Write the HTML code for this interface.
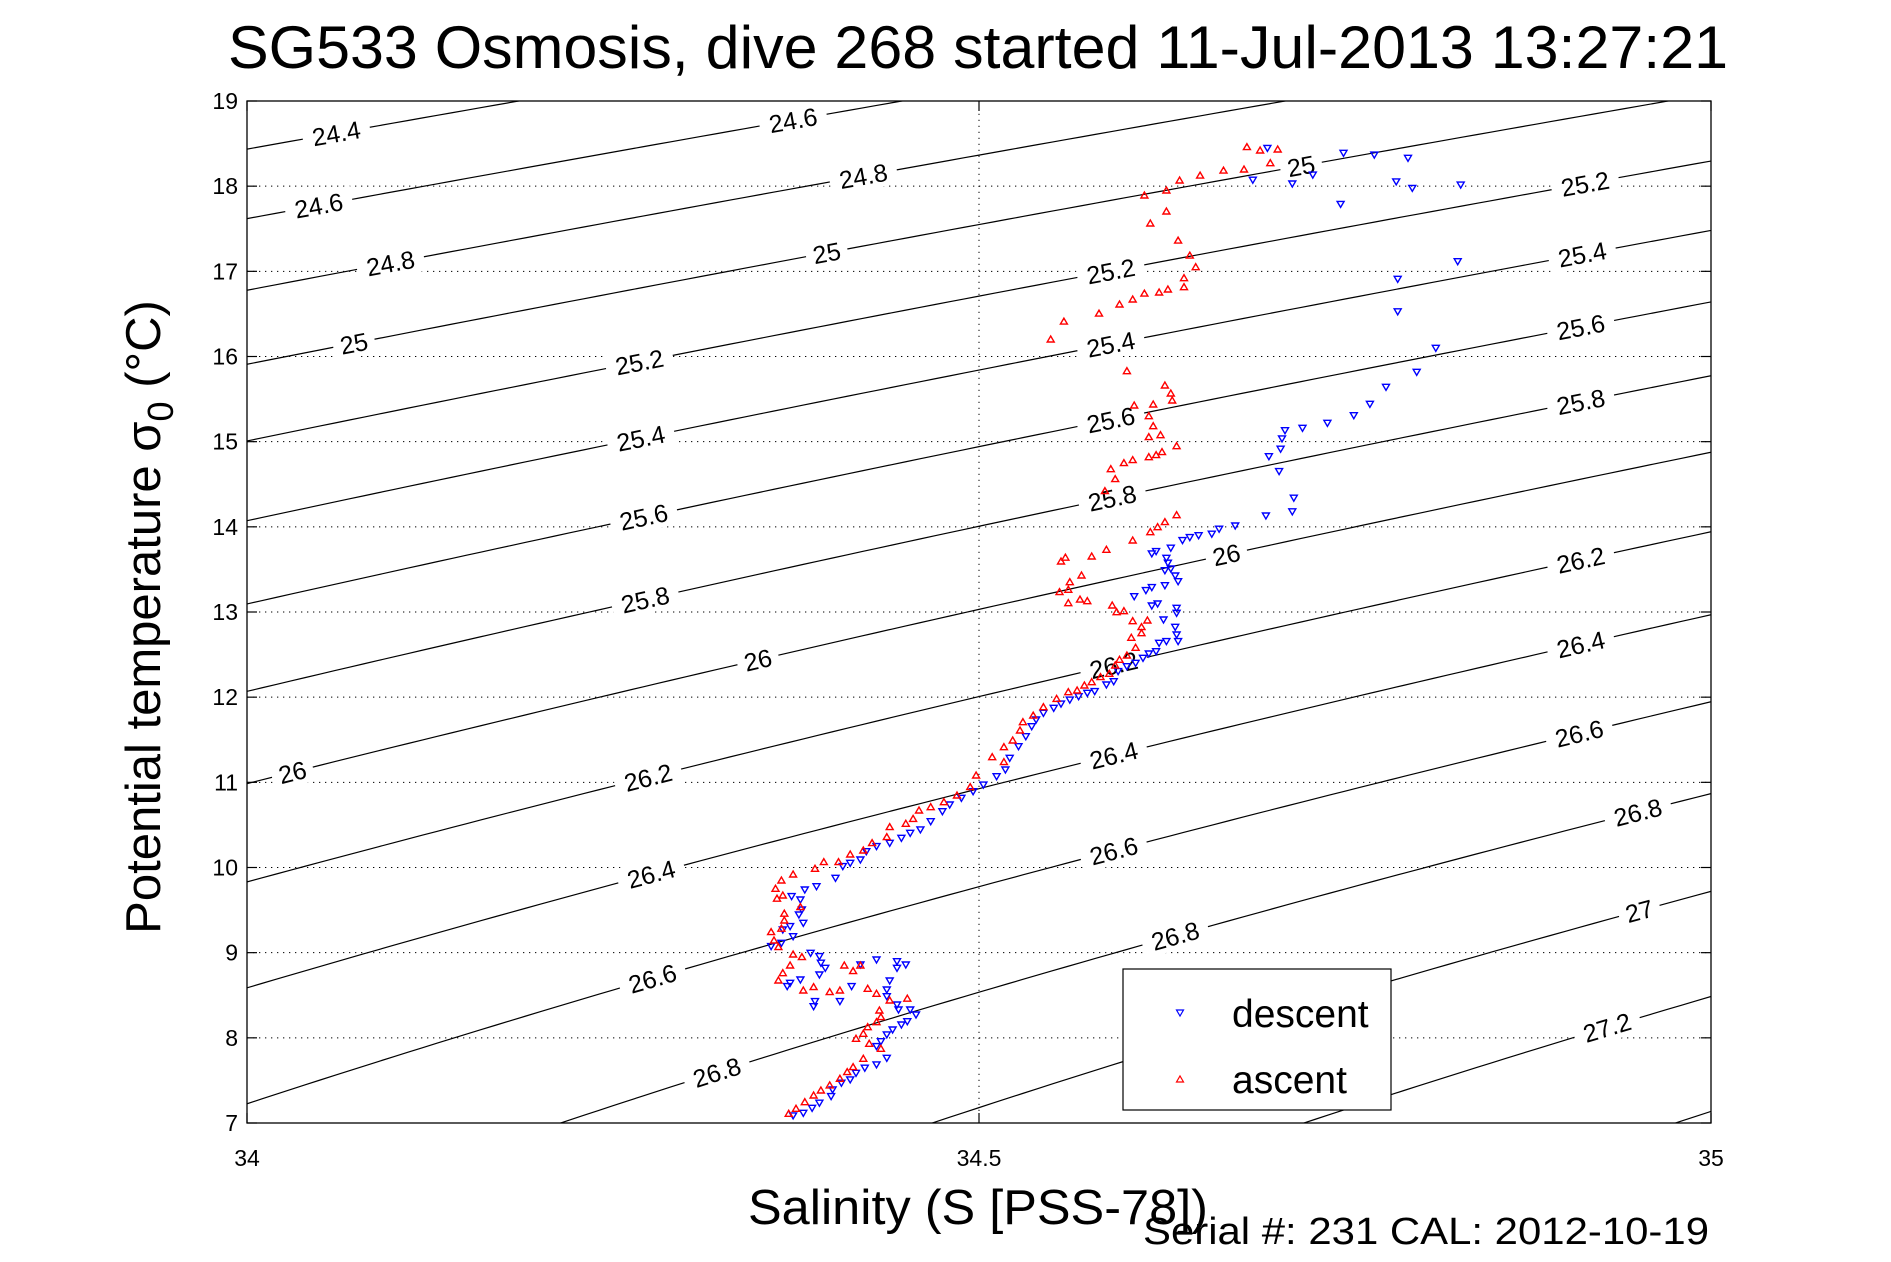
<!DOCTYPE html>
<html><head><meta charset="utf-8"><style>
html,body{margin:0;padding:0;background:#fff;width:1891px;height:1262px;overflow:hidden;}
svg{display:block;font-family:"Liberation Sans",sans-serif;}
</style></head><body>
<svg id="chart" width="1891" height="1262" viewBox="0 0 1891 1262" xmlns="http://www.w3.org/2000/svg">
<defs><clipPath id="plotclip"><rect x="247" y="101" width="1464" height="1022"/></clipPath></defs>
<rect x="0" y="0" width="1891" height="1262" fill="#fff"/>
<text x="978" y="68" font-size="60" text-anchor="middle" textLength="1500" lengthAdjust="spacingAndGlyphs">SG533 Osmosis, dive 268 started 11-Jul-2013 13:27:21</text>
<g id="grid"></g>
<g id="contours" clip-path="url(#plotclip)"></g>
<g id="clabels"></g>
<g id="descent" clip-path="url(#plotclip)"></g>
<g id="ascent" clip-path="url(#plotclip)"></g>
<rect x="247" y="101" width="1464" height="1022" fill="none" stroke="#000" stroke-width="1.3"/>
<g id="ticks"></g>
<text x="978" y="1224" font-size="49" text-anchor="middle" textLength="460" lengthAdjust="spacingAndGlyphs">Salinity (S [PSS-78])</text>
<text transform="translate(160,617) rotate(-90)" font-size="49" text-anchor="middle">Potential temperature σ<tspan font-size="36" dy="13">0</tspan><tspan dy="-13"> (°C)</tspan></text>
<text x="1709" y="1244" font-size="38" text-anchor="end" textLength="566" lengthAdjust="spacingAndGlyphs">Serial #: 231  CAL: 2012-10-19</text>
<g>
<rect x="1123" y="969" width="268" height="141" fill="#fff" stroke="#000" stroke-width="1.2"/>
<path d="M1176.5,1010 L1183.5,1010 L1180,1016 Z" fill="none" stroke="#00f" stroke-width="1.2"/>
<text x="1232" y="1027" font-size="39">descent</text>
<path d="M1176.5,1082 L1183.5,1082 L1180,1076 Z" fill="none" stroke="#f00" stroke-width="1.2"/>
<text x="1232" y="1093" font-size="39">ascent</text>
</g>
</svg>
<script>
const xTicks = [34, 34.5, 35];
const xTickLabels = ["34", "34.5", "35"];
const yTicks = [7, 8, 9, 10, 11, 12, 13, 14, 15, 16, 17, 18, 19];
const contourLevels = [24.0,24.2,24.4,24.6,24.8,25.0,25.2,25.4,25.6,25.8,26.0,26.2,26.4,26.6,26.8,27.0,27.2,27.4,27.6];
const labelLevels = [24.4,24.6,24.6,24.8,24.8,25,25,25,25.2,25.2,25.2,25.4,25.4,25.4,25.6,25.6,25.6,25.8,25.8,25.8,26,26,26,26.2,26.2,26.2,26.4,26.4,26.4,26.6,26.6,26.6,26.8,26.8,26.8,27,27.2];
const labelSal = [34.061,34.373,34.049,34.421,34.098,34.720,34.396,34.073,34.914,34.590,34.268,34.912,34.590,34.269,34.911,34.590,34.271,34.911,34.591,34.272,34.669,34.349,34.031,34.911,34.592,34.274,34.911,34.592,34.276,34.910,34.592,34.277,34.950,34.634,34.321,34.951,34.929];

const descentS = [34.697,34.749,34.770,34.793,34.829,34.796,34.785,34.728,34.714,34.687,34.747,34.827,34.786,34.786,34.812,34.799,34.778,34.767,34.756,34.738,34.721,34.709,34.707,34.706,34.698,34.705,34.715,34.714,34.696,34.675,34.664,34.659,34.650,34.644,34.639,34.631,34.621,34.618,34.628,34.629,34.631,34.627,34.634,34.636,34.627,34.618,34.614,34.606,34.622,34.618,34.635,34.635,34.626,34.634,34.635,34.636,34.628,34.623,34.621,34.616,34.612,34.607,34.601,34.595,34.592,34.587,34.579,34.574,34.568,34.562,34.556,34.551,34.544,34.539,34.536,34.532,34.527,34.521,34.518,34.512,34.503,34.496,34.488,34.480,34.475,34.467,34.460,34.453,34.447,34.439,34.430,34.423,34.419,34.412,34.407,34.402,34.389,34.381,34.372,34.378,34.379,34.377,34.380,34.371,34.366,34.373,34.365,34.358,34.385,34.391,34.392,34.395,34.391,34.378,34.371,34.369,34.388,34.387,34.405,34.413,34.419,34.430,34.444,34.450,34.444,34.439,34.437,34.437,34.444,34.445,34.453,34.457,34.451,34.447,34.441,34.437,34.433,34.430,34.437,34.430,34.422,34.416,34.412,34.406,34.400,34.399,34.391,34.386,34.380,34.373];
const descentT = [18.444,18.386,18.365,18.327,18.013,17.974,18.050,18.130,18.026,18.070,17.786,17.113,16.906,16.525,16.096,15.814,15.638,15.439,15.305,15.216,15.157,15.129,15.032,14.911,14.824,14.648,14.336,14.177,14.127,14.010,13.972,13.913,13.896,13.873,13.838,13.749,13.709,13.682,13.631,13.573,13.505,13.485,13.423,13.356,13.309,13.286,13.251,13.180,13.094,13.070,13.043,12.985,12.906,12.820,12.730,12.652,12.652,12.633,12.534,12.507,12.456,12.398,12.358,12.300,12.182,12.143,12.065,12.045,12.006,11.966,11.919,11.869,11.811,11.732,11.653,11.536,11.418,11.282,11.145,11.066,10.968,10.890,10.812,10.734,10.655,10.538,10.441,10.401,10.343,10.284,10.245,10.186,10.088,10.049,10.010,9.873,9.775,9.736,9.658,9.618,9.501,9.442,9.345,9.306,9.266,9.188,9.110,9.071,8.993,8.954,8.876,8.817,8.738,8.679,8.640,8.601,8.425,8.366,8.425,8.601,8.855,8.914,8.894,8.855,8.817,8.667,8.562,8.483,8.385,8.327,8.327,8.268,8.190,8.151,8.092,8.034,7.955,7.897,7.760,7.682,7.643,7.584,7.506,7.467,7.389,7.310,7.232,7.173,7.114,7.083];

const ascentS = [34.683,34.692,34.704,34.699,34.681,34.667,34.651,34.637,34.628,34.613,34.628,34.617,34.636,34.644,34.648,34.640,34.640,34.629,34.623,34.613,34.605,34.596,34.582,34.558,34.549,34.601,34.627,34.631,34.632,34.619,34.606,34.616,34.619,34.624,34.616,34.635,34.625,34.621,34.616,34.605,34.599,34.590,34.593,34.586,34.635,34.627,34.622,34.617,34.605,34.587,34.577,34.559,34.556,34.570,34.562,34.555,34.561,34.569,34.574,34.561,34.591,34.594,34.599,34.605,34.615,34.611,34.611,34.604,34.607,34.601,34.596,34.593,34.589,34.583,34.577,34.572,34.567,34.561,34.553,34.544,34.537,34.530,34.528,34.523,34.517,34.509,34.517,34.498,34.494,34.485,34.476,34.467,34.459,34.455,34.450,34.439,34.437,34.427,34.421,34.412,34.404,34.394,34.388,34.373,34.365,34.361,34.366,34.362,34.378,34.367,34.367,34.365,34.358,34.360,34.363,34.373,34.379,34.371,34.366,34.363,34.380,34.387,34.398,34.405,34.424,34.430,34.439,34.432,34.433,34.430,34.424,34.421,34.416,34.425,34.433,34.421,34.414,34.410,34.405,34.398,34.392,34.387,34.381,34.375,34.370,34.408,34.414,34.419,34.451];
const ascentT = [18.464,18.425,18.436,18.275,18.201,18.189,18.130,18.072,17.955,17.896,17.708,17.567,17.367,17.191,17.054,16.925,16.820,16.792,16.757,16.745,16.675,16.616,16.510,16.416,16.205,15.833,15.665,15.571,15.489,15.442,15.430,15.305,15.188,15.082,15.059,14.953,14.883,14.848,14.824,14.789,14.754,14.683,14.566,14.425,14.143,14.061,14.002,13.943,13.845,13.736,13.658,13.643,13.599,13.434,13.356,13.239,13.267,13.152,13.133,13.109,13.082,13.003,13.015,12.898,12.906,12.828,12.757,12.703,12.586,12.495,12.445,12.378,12.280,12.241,12.182,12.143,12.084,12.064,11.986,11.888,11.790,11.712,11.614,11.497,11.418,11.301,11.243,11.086,10.950,10.851,10.773,10.714,10.675,10.577,10.519,10.480,10.363,10.292,10.206,10.158,10.069,10.069,9.991,9.924,9.853,9.756,9.677,9.639,9.541,9.463,9.384,9.287,9.247,9.149,9.071,8.984,8.954,8.855,8.765,8.679,8.562,8.601,8.543,8.562,8.582,8.523,8.444,8.327,8.249,8.190,8.131,8.053,7.994,7.936,7.877,7.760,7.662,7.603,7.525,7.447,7.388,7.329,7.250,7.173,7.114,8.855,8.789,8.855,8.465];

const NS = "http://www.w3.org/2000/svg";
const X0 = 247, X1 = 1711, Y0 = 1123, Y1 = 101;
const SMIN = 34, SMAX = 35, TMIN = 7, TMAX = 19;
function xs(s){ return X0 + (s - SMIN) / (SMAX - SMIN) * (X1 - X0); }
function ys(t){ return Y0 - (t - TMIN) / (TMAX - TMIN) * (Y0 - Y1); }
function mk(tag, attrs, parent){ const e = document.createElementNS(NS, tag); for (const k in attrs) e.setAttribute(k, attrs[k]); parent.appendChild(e); return e; }

function sigma0(S, T){
  const rw = 999.842594 + 6.793952e-2*T - 9.095290e-3*T*T + 1.001685e-4*T**3 - 1.120083e-6*T**4 + 6.536332e-9*T**5;
  const A = 0.824493 - 4.0899e-3*T + 7.6438e-5*T*T - 8.2467e-7*T**3 + 5.3875e-9*T**4;
  const B = -5.72466e-3 + 1.0227e-4*T - 1.6546e-6*T*T;
  return rw + A*S + B*Math.pow(S,1.5) + 4.8314e-4*S*S - 1000;
}
function tForSigma(S, sig){
  let lo = -2, hi = 30;
  for (let i = 0; i < 60; i++){ const m = (lo+hi)/2; if (sigma0(S,m) > sig) lo = m; else hi = m; }
  return (lo+hi)/2;
}

const grid = document.getElementById('grid');
yTicks.forEach(t => {
  const l = mk('line', {x1:X0, x2:X1, y1:ys(t), y2:ys(t), stroke:'#000', 'stroke-width':1, 'stroke-dasharray':'1.3,4.7'}, grid);
  
  
});
xTicks.forEach(s => {
  const l = mk('line', {x1:xs(s), x2:xs(s), y1:Y0, y2:Y1, stroke:'#000', 'stroke-width':1, 'stroke-dasharray':'1.3,4.7'}, grid);
  
  
});

const cg = document.getElementById('contours');
contourLevels.forEach(lv => {
  let d = '';
  for (let i = 0; i <= 100; i++){
    const s = SMIN + i*(SMAX-SMIN)/100;
    d += (i ? 'L' : 'M') + xs(s).toFixed(2) + ',' + ys(tForSigma(s, lv)).toFixed(2);
  }
  const p = mk('path', {d:d, fill:'none', stroke:'#000', 'stroke-width':1.2}, cg);
  
  
});

const lg = document.getElementById('clabels');
labelLevels.forEach((lv, i) => {
  const s = labelSal[i];
  const x = xs(s), y = ys(tForSigma(s, lv));
  const x2 = xs(s+0.01), y2 = ys(tForSigma(s+0.01, lv));
  const ang = Math.atan2(y2 - y, x2 - x) * 180 / Math.PI;
  const txt = String(Math.round(lv*10)/10);
  const g = mk('g', {transform:'translate(' + x.toFixed(1) + ',' + y.toFixed(1) + ') rotate(' + ang.toFixed(2) + ')'}, lg);
  
  
  const w = txt.length * 13 + 16;
  mk('rect', {x:-w/2, y:-14, width:w, height:28, fill:'#fff'}, g);
  const t = mk('text', {x:0, y:9, 'font-size':25, 'text-anchor':'middle'}, g);
  t.textContent = txt;
});

function drawSeries(gid, S, T, color, down, name){
  const g = document.getElementById(gid);
  let d = '';
  for (let i = 0; i < S.length; i++){
    const x = xs(S[i]), y = ys(T[i]);
    if (down) d += 'M' + (x-3.5).toFixed(1) + ',' + (y-3).toFixed(1) + 'h7l-3.5,6z';
    else d += 'M' + (x-3.5).toFixed(1) + ',' + (y+3).toFixed(1) + 'h7l-3.5,-6z';
  }
  const p = mk('path', {d:d, fill:'none', stroke:color, 'stroke-width':1.4}, g);
  
  
}
drawSeries('descent', descentS, descentT, '#0000ff', true, 'descent-markers');
drawSeries('ascent', ascentS, ascentT, '#ff0000', false, 'ascent-markers');

const tg = document.getElementById('ticks');
yTicks.forEach(t => {
  mk('line', {x1:X0, x2:X0+10, y1:ys(t), y2:ys(t), stroke:'#000', 'stroke-width':1.2}, tg);
  mk('line', {x1:X1, x2:X1-10, y1:ys(t), y2:ys(t), stroke:'#000', 'stroke-width':1.2}, tg);
  const lbl = mk('text', {x:X0-9, y:ys(t)+8, 'font-size':23, 'text-anchor':'end'}, tg);
  
  
  lbl.textContent = String(t);
});
xTicks.forEach((s, i) => {
  mk('line', {x1:xs(s), x2:xs(s), y1:Y0, y2:Y0-10, stroke:'#000', 'stroke-width':1.2}, tg);
  mk('line', {x1:xs(s), x2:xs(s), y1:Y1, y2:Y1+10, stroke:'#000', 'stroke-width':1.2}, tg);
  const lbl = mk('text', {x:xs(s), y:1166, 'font-size':23, 'text-anchor':'middle'}, tg);
  
  
  lbl.textContent = xTickLabels[i];
});
</script>
</body></html>
